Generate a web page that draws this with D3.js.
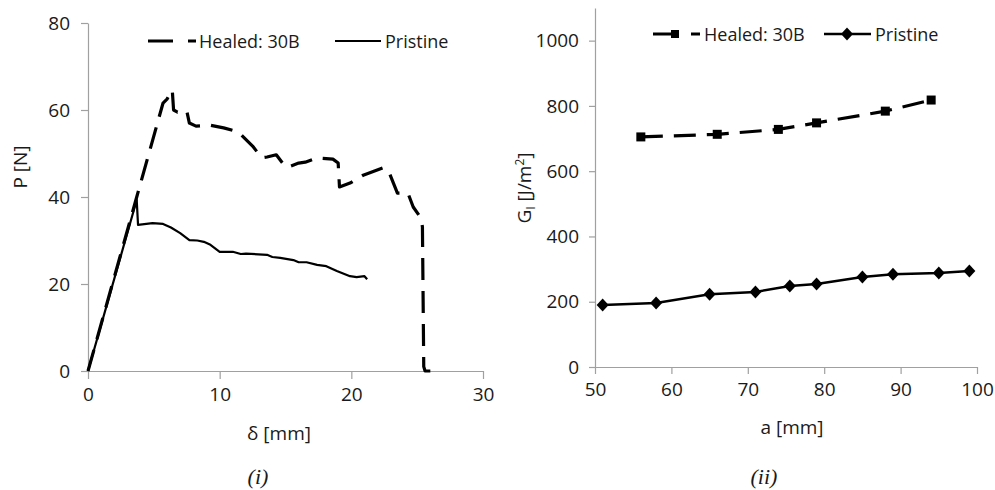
<!DOCTYPE html>
<html><head><meta charset="utf-8">
<script src="https://cdn.jsdelivr.net/npm/d3@7"></script>
<style>body{margin:0;background:#fff}svg{display:block}</style>
</head><body>
<svg id="c" width="995" height="490"></svg>
<script>
// ---- Data ----
const deltaTicks = [0, 10, 20, 30];
const loadTicks = [0, 20, 40, 60, 80];
const aTicks = [50, 60, 70, 80, 90, 100];
const gTicks = [0, 200, 400, 600, 800, 1000];

const pristineDelta = [0, 3.7, 3.8, 4.9, 5.7, 6.3, 7.0, 7.7, 8.3, 8.8, 9.3, 9.6, 10.0, 11.0, 11.6, 12.0, 13.6, 14.0, 14.6, 15.6, 16.0, 16.6, 17.4, 18.1, 18.9, 19.9, 20.4, 21.0, 21.2];
const pristineLoad  = [0, 39.3, 33.6, 34.0, 33.8, 33.0, 31.7, 30.1, 30.0, 29.7, 29.0, 28.3, 27.4, 27.4, 26.9, 27.0, 26.7, 26.2, 26.0, 25.5, 25.0, 25.0, 24.4, 24.1, 23.0, 21.8, 21.6, 21.8, 21.1];

const healedDelta = [0, 3.7, 5.7, 6.0, 6.4, 6.5, 6.8, 7.5, 7.7, 8.2, 9.3, 10.3, 11.4, 12.5, 13.2, 13.6, 14.3, 15.0, 15.3, 16.0, 16.5, 17.4, 18.6, 19.0, 19.1, 19.9, 20.9, 22.4, 22.8, 23.5, 24.3, 24.7, 25.3, 25.4, 25.5, 25.6, 26.0];
const healedLoad  = [0, 40.0, 61.6, 62.5, 64.6, 60.0, 59.5, 59.8, 57.0, 56.3, 56.5, 55.9, 55.0, 51.7, 49.0, 49.2, 49.7, 46.9, 47.0, 47.8, 48.0, 49.0, 48.7, 47.8, 42.3, 43.2, 45.0, 46.7, 46.2, 40.9, 40.9, 37.7, 35.1, 33.1, 1.0, 0, 0];

const healedA = [56, 66, 74, 79, 88, 94];
const healedG = [705, 713, 728, 748, 784, 818];
const pristineA = [51, 58, 65, 71, 75.5, 79, 85, 89, 95, 99];
const pristineG = [190, 196, 223, 230, 248, 254, 276, 284, 288, 294];

const seriesNames = ["Healed: 30B", "Pristine"];

// ---- Drawing ----
const svg = d3.select("#c");
const FONT = "'Open Sans', sans-serif";
const AX = "#a0a0a0";
const TXT = "#1a1a1a";
const FS = "18px";

function styleAxis(g) {
  g.select(".domain").attr("stroke", AX).attr("stroke-width", 1.2);
  g.selectAll(".tick line").attr("stroke", AX).attr("stroke-width", 1.2);
  g.selectAll(".tick text").attr("fill", TXT).style("font-family", FONT).style("font-size", "19px");
}

// Left panel
const x1 = d3.scaleLinear().domain([0, 30]).range([88, 483]);
const y1 = d3.scaleLinear().domain([0, 80]).range([371, 23]);

svg.append("g").attr("transform", "translate(0,371)")
  .call(d3.axisBottom(x1).tickValues(deltaTicks).tickFormat(d3.format("d")).tickSize(8).tickPadding(9).tickSizeOuter(0))
  .call(styleAxis);
svg.append("g").attr("transform", "translate(88,0)")
  .call(d3.axisLeft(y1).tickValues(loadTicks).tickFormat(d3.format("d")).tickSize(7).tickPadding(11).tickSizeOuter(0))
  .call(styleAxis);

const line1 = d3.line().x(d => x1(d[0])).y(d => y1(d[1]));
svg.append("path").datum(pristineDelta.map((d, i) => [d, pristineLoad[i]]))
  .attr("d", line1).attr("fill", "none").attr("stroke", "#000").attr("stroke-width", 2.2)
  .attr("stroke-linejoin", "round");
svg.append("path").datum(healedDelta.map((d, i) => [d, healedLoad[i]]))
  .attr("d", line1).attr("fill", "none").attr("stroke", "#000").attr("stroke-width", 3.2)
  .attr("stroke-dasharray", "22,11").attr("stroke-linejoin", "round");

// Left legend
svg.append("line").attr("x1", 148).attr("x2", 196).attr("y1", 41).attr("y2", 41)
  .attr("stroke", "#000").attr("stroke-width", 3.2).attr("stroke-dasharray", "25,15");
svg.append("text").attr("x", 199).attr("y", 47.5).text(seriesNames[0])
  .style("font-family", FONT).style("font-size", FS).attr("fill", TXT);
svg.append("line").attr("x1", 335).attr("x2", 381).attr("y1", 41).attr("y2", 41)
  .attr("stroke", "#000").attr("stroke-width", 2.2);
svg.append("text").attr("x", 385).attr("y", 47.5).text(seriesNames[1])
  .style("font-family", FONT).style("font-size", FS).attr("fill", TXT);

svg.append("text").attr("transform", "translate(27,167) rotate(-90)").attr("text-anchor", "middle")
  .text("P [N]").style("font-family", FONT).style("font-size", "19px").attr("fill", TXT);
svg.append("text").attr("x", 279).attr("y", 440).attr("text-anchor", "middle")
  .text("δ [mm]").style("font-family", FONT).style("font-size", "19px").attr("fill", TXT);
svg.append("text").attr("x", 258).attr("y", 484).attr("text-anchor", "middle")
  .text("(i)").style("font-family", "'Liberation Serif', serif").style("font-style", "italic")
  .style("font-size", "22px").attr("fill", TXT);

// Right panel
const x2 = d3.scaleLinear().domain([50, 100]).range([595, 977]);
const y2 = d3.scaleLinear().domain([0, 1100]).range([367, 8]);

svg.append("g").attr("transform", "translate(0,367)")
  .call(d3.axisBottom(x2).tickValues(aTicks).tickFormat(d3.format("d")).tickSize(7).tickPadding(9).tickSizeOuter(0))
  .call(styleAxis);
svg.append("g").attr("transform", "translate(595,0)")
  .call(d3.axisLeft(y2).tickValues(gTicks).tickFormat(d3.format("d")).tickSize(6).tickPadding(10).tickSizeOuter(0))
  .call(styleAxis);

const line2 = d3.line().x(d => x2(d[0])).y(d => y2(d[1]));
const hData = healedA.map((d, i) => [d, healedG[i]]);
const pData = pristineA.map((d, i) => [d, pristineG[i]]);
svg.append("path").datum(hData).attr("d", line2).attr("fill", "none").attr("stroke", "#000")
  .attr("stroke-width", 3.2).attr("stroke-dasharray", "22,11");
svg.append("path").datum(pData).attr("d", line2).attr("fill", "none").attr("stroke", "#000")
  .attr("stroke-width", 2.5);

const diamond = "M0,-6.5L6,0L0,6.5L-6,0Z";
svg.append("g").selectAll("rect").data(hData).join("rect")
  .attr("x", d => x2(d[0]) - 4.5).attr("y", d => y2(d[1]) - 4.5).attr("width", 9).attr("height", 9).attr("fill", "#000");
svg.append("g").selectAll("path").data(pData).join("path")
  .attr("transform", d => `translate(${x2(d[0])},${y2(d[1])})`).attr("d", diamond).attr("fill", "#000");

// Right legend
svg.append("line").attr("x1", 653).attr("x2", 700).attr("y1", 34).attr("y2", 34)
  .attr("stroke", "#000").attr("stroke-width", 3.2).attr("stroke-dasharray", "25,13");
svg.append("rect").attr("x", 671).attr("y", 30).attr("width", 8).attr("height", 8).attr("fill", "#000");
svg.append("text").attr("x", 704).attr("y", 40.5).text(seriesNames[0])
  .style("font-family", FONT).style("font-size", FS).attr("fill", TXT);
svg.append("line").attr("x1", 824).attr("x2", 871).attr("y1", 34).attr("y2", 34)
  .attr("stroke", "#000").attr("stroke-width", 2.5);
svg.append("path").attr("transform", "translate(847,34)").attr("d", diamond).attr("fill", "#000");
svg.append("text").attr("x", 875).attr("y", 40.5).text(seriesNames[1])
  .style("font-family", FONT).style("font-size", FS).attr("fill", TXT);

const gl = svg.append("text").attr("transform", "translate(531,188) rotate(-90)").attr("text-anchor", "middle")
  .style("font-family", FONT).style("font-size", "19px").attr("fill", TXT);
gl.append("tspan").text("G");
gl.append("tspan").text("I").style("font-size", "12px").attr("dy", 4);
gl.append("tspan").text(" [J/m").attr("dy", -4);
gl.append("tspan").text("2").style("font-size", "12px").attr("dy", -7);
gl.append("tspan").text("]").attr("dy", 7);

svg.append("text").attr("x", 792).attr("y", 434).attr("text-anchor", "middle")
  .text("a [mm]").style("font-family", FONT).style("font-size", "19px").attr("fill", TXT);
svg.append("text").attr("x", 764).attr("y", 484).attr("text-anchor", "middle")
  .text("(ii)").style("font-family", "'Liberation Serif', serif").style("font-style", "italic")
  .style("font-size", "22px").attr("fill", TXT);
</script>
</body></html>
